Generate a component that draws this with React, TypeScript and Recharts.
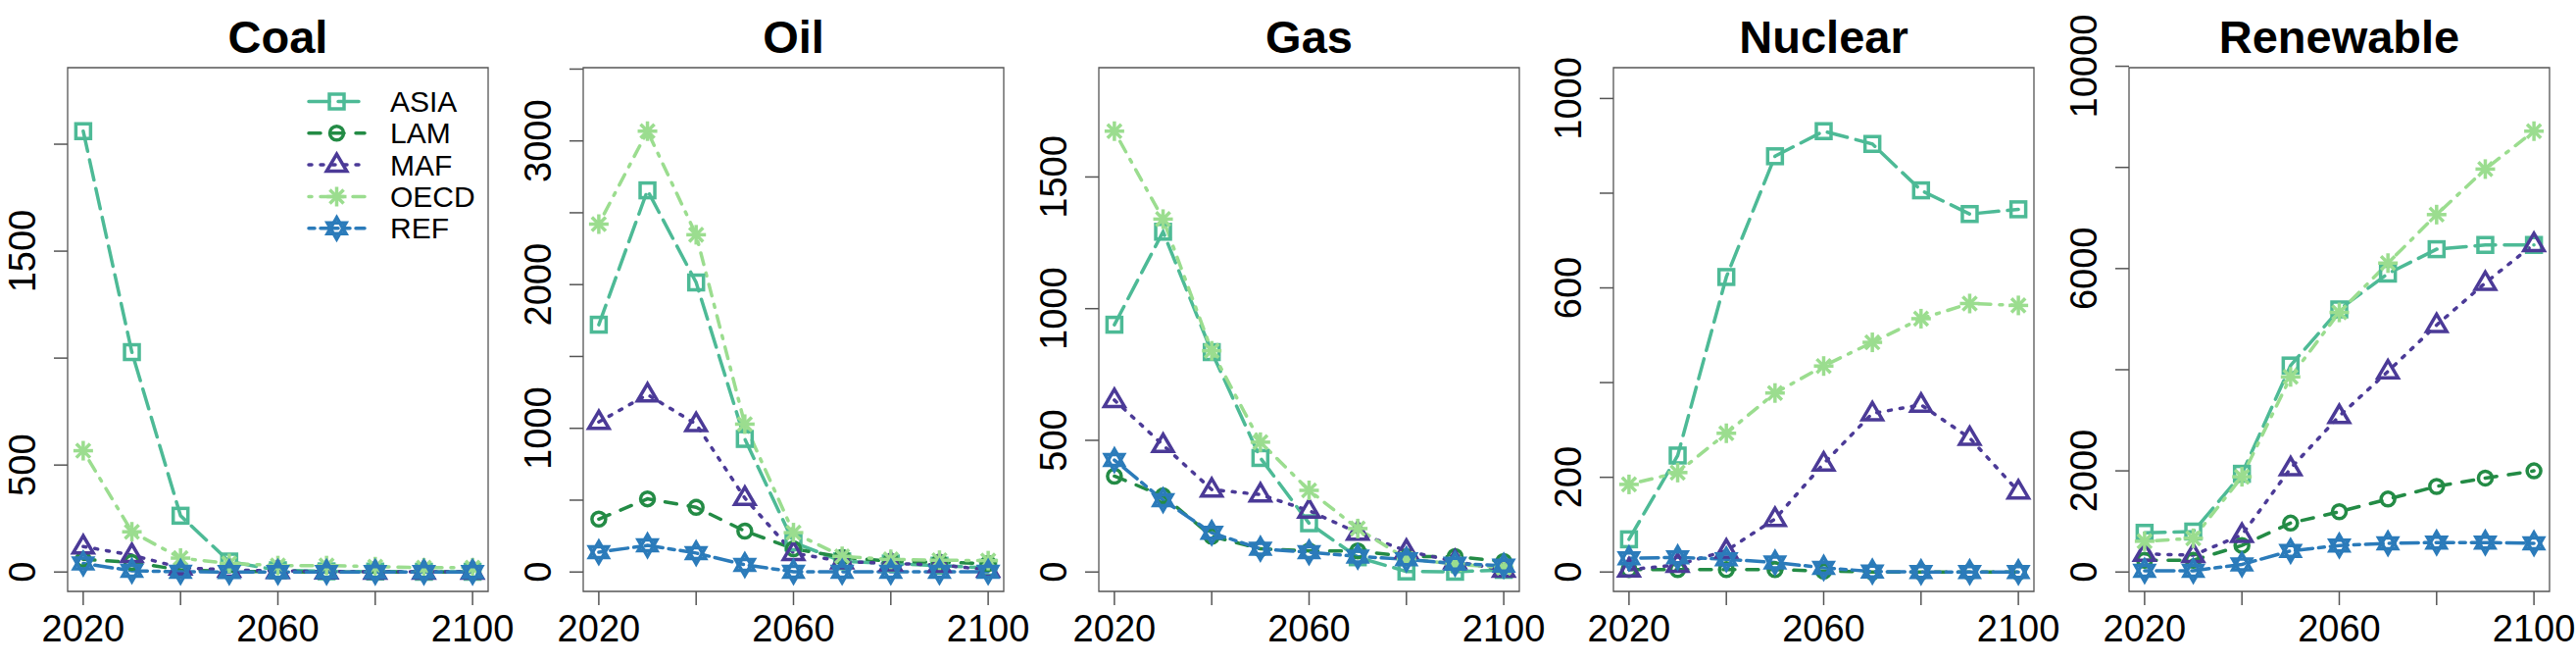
import React from 'react';
import { LineChart, Line, XAxis, YAxis, ReferenceArea } from 'recharts';

const YEARS = [2020, 2030, 2040, 2050, 2060, 2070, 2080, 2090, 2100];
const REGIONS = ['ASIA', 'LAM', 'MAF', 'OECD', 'REF'];
const X_TICKS = [2020, 2040, 2060, 2080, 2100];
const X_LABELS = [2020, 2060, 2100];

const COAL: Record<string, number[]> = {
  ASIA: [2061, 1028, 263, 49, 8, 3, 2, 1, 1],
  LAM: [59, 45, 10, 3, 1, 0, 0, 0, 0],
  MAF: [119, 79, 20, 10, 5, 2, 1, 1, 1],
  OECD: [567, 188, 65, 40, 30, 30, 25, 20, 20],
  REF: [40, 6, 1, 0, 0, 0, 0, 0, 0],
};

const OIL: Record<string, number[]> = {
  ASIA: [1721, 2656, 2015, 926, 206, 74, 59, 44, 29],
  LAM: [368, 509, 450, 285, 162, 103, 74, 68, 59],
  MAF: [1044, 1235, 1029, 515, 132, 74, 59, 50, 15],
  OECD: [2421, 3068, 2347, 1029, 274, 109, 88, 82, 79],
  REF: [138, 185, 132, 50, 2, 1, 1, 1, 1],
};

const GAS: Record<string, number[]> = {
  ASIA: [939, 1292, 835, 433, 185, 56, 2, 1, 8],
  LAM: [364, 289, 136, 88, 80, 80, 59, 59, 40],
  MAF: [653, 482, 313, 294, 233, 149, 80, 40, 8],
  OECD: [1674, 1340, 840, 493, 310, 165, 50, 30, 16],
  REF: [425, 273, 149, 88, 75, 59, 48, 32, 24],
};

const NUCLEAR: Record<string, number[]> = {
  ASIA: [69, 246, 623, 878, 931, 904, 806, 756, 766],
  LAM: [5, 5, 5, 5, 2, 0, 0, 0, 0],
  MAF: [5, 15, 45, 112, 229, 335, 353, 283, 170],
  OECD: [185, 210, 293, 378, 435, 485, 535, 567, 563],
  REF: [29, 31, 27, 20, 9, 1, 0, 0, 0],
};

const RENEWABLE: Record<string, number[]> = {
  ASIA: [775, 800, 1942, 4083, 5192, 5900, 6383, 6467, 6467],
  LAM: [233, 233, 525, 967, 1192, 1442, 1692, 1858, 2000],
  MAF: [358, 333, 733, 2050, 3083, 3967, 4883, 5717, 6483],
  OECD: [608, 667, 1883, 3858, 5133, 6108, 7067, 7967, 8717],
  REF: [25, 25, 150, 417, 525, 567, 583, 583, 567],
};

const COAL_TICKS = [0, 500, 1000, 1500, 2000];
const OIL_TICKS = [0, 500, 1000, 1500, 2000, 2500, 3000, 3500];
const GAS_TICKS = [0, 500, 1000, 1500];
const NUCLEAR_TICKS = [0, 200, 400, 600, 800, 1000];
const RENEWABLE_TICKS = [0, 2000, 4000, 6000, 8000, 10000];

// labels R kept (the rest were dropped for overlap)
const COAL_LABELS = [0, 500, 1500];
const OIL_LABELS = [0, 1000, 2000, 3000];
const GAS_LABELS = [0, 500, 1000, 1500];
const NUCLEAR_LABELS = [0, 200, 600, 1000];
const RENEWABLE_LABELS = [0, 2000, 6000, 10000];

const COLORS: Record<string, string> = {
  ASIA: '#4DBA96',
  LAM: '#238B45',
  MAF: '#4B3A97',
  OECD: '#9BDD8F',
  REF: '#2B7BBA',
};

const DASHES: Record<string, string> = {
  ASIA: '21 9',
  LAM: '12 12',
  MAF: '3 9',
  OECD: '3 9 12 9',
  REF: '6 6 18 6',
};

const FONT = "'Liberation Sans', Arial, Helvetica, sans-serif";
const W = 526;
const H = 676;
const BOX_LEFT = 69;
const BOX_TOP = 69;
const BOX_W = 429;
const BOX_BOTTOM = 603;
const STEP = 525.75;
const LW = 3.5;

function Marker({ cx, cy, region }: { cx: number; cy: number; region: string }) {
  const c = COLORS[region];
  const common = { fill: 'none', stroke: c, strokeWidth: LW };
  if (cx == null || cy == null) return <g />;
  switch (region) {
    case 'ASIA':
      return <rect x={cx - 7.5} y={cy - 7.5} width={15} height={15} {...common} />;
    case 'LAM':
      return <circle cx={cx} cy={cy} r={7} {...common} />;
    case 'MAF':
      return (
        <polygon
          points={`${cx},${cy - 11} ${cx - 10.3},${cy + 6.5} ${cx + 10.3},${cy + 6.5}`}
          {...common}
          strokeLinejoin="miter"
        />
      );
    case 'OECD': {
      const r = 10;
      const d = r * 0.7071;
      return (
        <g stroke={c} strokeWidth={LW}>
          <line x1={cx - r} y1={cy} x2={cx + r} y2={cy} />
          <line x1={cx} y1={cy - r} x2={cx} y2={cy + r} />
          <line x1={cx - d} y1={cy - d} x2={cx + d} y2={cy + d} />
          <line x1={cx - d} y1={cy + d} x2={cx + d} y2={cy - d} />
        </g>
      );
    }
    default:
      return (
        <g {...common}>
          <polygon points={`${cx},${cy - 11} ${cx - 9.5},${cy + 5.5} ${cx + 9.5},${cy + 5.5}`} />
          <polygon points={`${cx},${cy + 11} ${cx - 9.5},${cy - 5.5} ${cx + 9.5},${cy - 5.5}`} />
        </g>
      );
  }
}

function XTick({ x, y, payload }: any) {
  if (!X_LABELS.includes(payload.value)) return <g />;
  return (
    <text x={x} y={y + 35} textAnchor="middle" fontSize={38} fontFamily={FONT} fill="#000">
      {payload.value}
    </text>
  );
}

function makeYTick(shown: number[]) {
  return ({ x, y, payload }: any) => {
    if (!shown.includes(payload.value)) return <g />;
    const bx = x - 17;
    return (
      <text
        x={bx}
        y={y}
        textAnchor="middle"
        fontSize={38}
        fontFamily={FONT}
        fill="#000"
        transform={`rotate(-90, ${bx}, ${y})`}
      >
        {payload.value}
      </text>
    );
  };
}

function LegendBox() {
  const rows = [103.5, 135.8, 168.1, 200.5, 232.8];
  return (
    <svg
      width={W}
      height={H}
      style={{ position: 'absolute', left: 0, top: 0, pointerEvents: 'none' }}
    >
      {REGIONS.map((r, i) => (
        <g key={r}>
          <line
            x1={315}
            x2={372}
            y1={rows[i]}
            y2={rows[i]}
            stroke={COLORS[r]}
            strokeWidth={LW}
            strokeDasharray={DASHES[r]}
            strokeLinecap="round"
          />
          <Marker cx={343.5} cy={rows[i]} region={r} />
          <text x={398} y={rows[i] + 10.5} fontSize={30} fontFamily={FONT} fill="#000">
            {r}
          </text>
        </g>
      ))}
    </svg>
  );
}

function Panel({ title, series, yTicks, yLabels, index }: any) {
  const data = YEARS.map((year, i) => {
    const row: Record<string, number> = { year };
    REGIONS.forEach((r) => (row[r] = series[r][i]));
    return row;
  });
  const peak = Math.max(...REGIONS.flatMap((r) => series[r])) * 1.1;
  const yDomain = [-0.04 * peak, 1.04 * peak];
  const xDomain = [2016.8, 2103.2];
  const YTick = makeYTick(yLabels);

  return (
    <div style={{ position: 'absolute', left: Math.round(index * STEP), top: 0, width: W, height: H }}>
      <div
        style={{
          position: 'absolute',
          left: BOX_LEFT,
          width: BOX_W,
          top: 14,
          textAlign: 'center',
          fontFamily: FONT,
          fontWeight: 700,
          fontSize: 47,
          lineHeight: '47px',
        }}
      >
        {title}
      </div>
      <LineChart
        width={W}
        height={H}
        data={data}
        margin={{ top: BOX_TOP, right: W - BOX_LEFT - BOX_W, bottom: 0, left: 0 }}
      >
        <XAxis
          type="number"
          dataKey="year"
          domain={xDomain}
          ticks={X_TICKS}
          interval={0}
          allowDataOverflow
          height={H - BOX_BOTTOM}
          tickSize={14}
          axisLine={false}
          tickLine={{ stroke: '#555', strokeWidth: 1.5 }}
          tick={<XTick />}
        />
        <YAxis
          type="number"
          domain={yDomain}
          ticks={yTicks}
          interval={0}
          allowDataOverflow
          width={BOX_LEFT}
          tickSize={14}
          axisLine={false}
          tickLine={{ stroke: '#555', strokeWidth: 1.5 }}
          tick={YTick}
        />
        <ReferenceArea
          x1={xDomain[0]}
          x2={xDomain[1]}
          y1={yDomain[0]}
          y2={yDomain[1]}
          fill="none"
          fillOpacity={0}
          stroke="#555"
          strokeWidth={1.3}
          ifOverflow="visible"
        />
        {REGIONS.map((r) => (
          <Line
            key={r}
            type="linear"
            dataKey={r}
            stroke={COLORS[r]}
            strokeWidth={LW}
            strokeDasharray={DASHES[r]}
            strokeLinecap="round"
            dot={(p: any) => <Marker key={`${r}-${p.index}`} cx={p.cx} cy={p.cy} region={r} />}
            activeDot={false}
            isAnimationActive={false}
          />
        ))}
      </LineChart>
      {index === 0 && <LegendBox />}
    </div>
  );
}

export default function App() {
  return (
    <div style={{ position: 'absolute', left: 0, top: 0, width: 2628, height: 676, background: '#fff' }}>
      <Panel index={0} title="Coal" series={COAL} yTicks={COAL_TICKS} yLabels={COAL_LABELS} />
      <Panel index={1} title="Oil" series={OIL} yTicks={OIL_TICKS} yLabels={OIL_LABELS} />
      <Panel index={2} title="Gas" series={GAS} yTicks={GAS_TICKS} yLabels={GAS_LABELS} />
      <Panel index={3} title="Nuclear" series={NUCLEAR} yTicks={NUCLEAR_TICKS} yLabels={NUCLEAR_LABELS} />
      <Panel index={4} title="Renewable" series={RENEWABLE} yTicks={RENEWABLE_TICKS} yLabels={RENEWABLE_LABELS} />
    </div>
  );
}
